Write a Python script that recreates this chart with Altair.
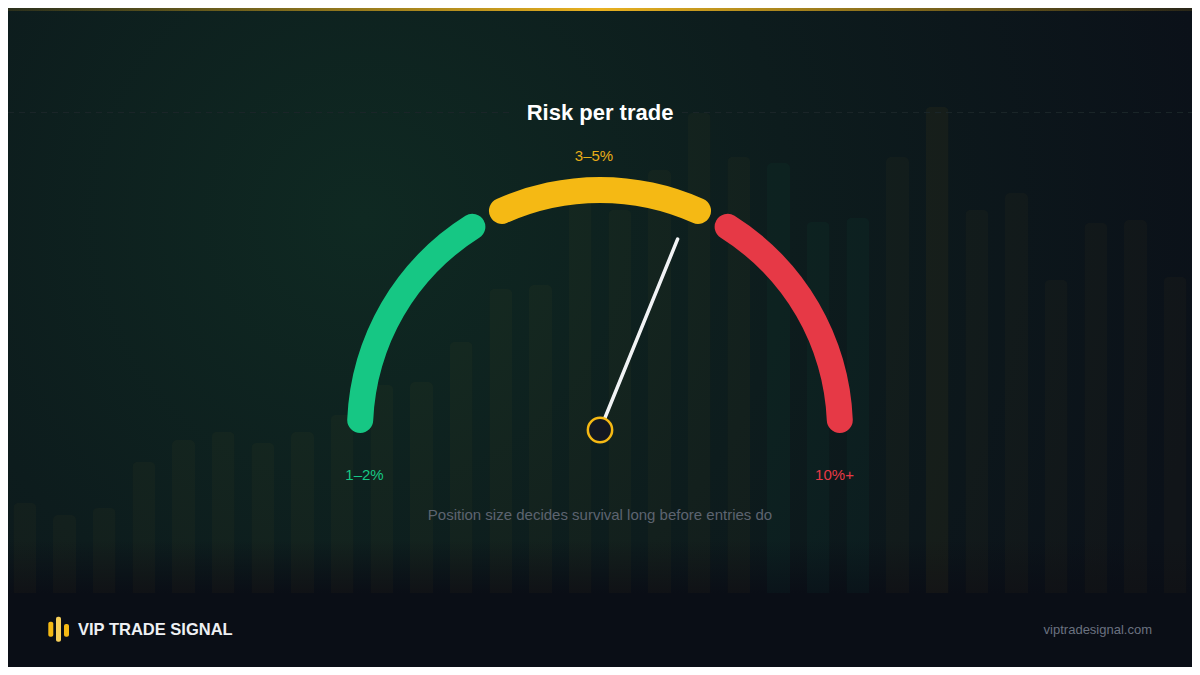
import altair as alt
import pandas as pd

# ---------------- canvas ----------------
W, H = 1184, 659          # chart size (page has an 8px margin on every side)
OX = 8                    # page -> chart offset


def px(v):
    return v - OX


FONT = "Liberation Sans"

# ---------------- data ----------------
# faint background candle bars (index -> height in px above the baseline)
bar_index = list(range(30))
bar_height = [90, 78, 85, 131, 153, 161, 150, 161, 178, 208,
              211, 251, 304, 308, 393, 383, 423, 480, 436, 430,
              371, 375, 436, 486, 383, 400, 313, 370, 373, 316]
bar_tone = ["y"] * 19 + ["g", "g", "g", "y", "h"] + ["y"] * 6

# gauge segments on a 0-100 risk dial
seg_label = ["1–2%", "3–5%", "10%+"]
seg_start = [0, 35, 66]
seg_end = [34, 65, 100]
seg_color = ["#16c784", "#f5b914", "#e63946"]

needle_value = [62.2]

title_text = "Risk per trade"
subtitle_text = "Position size decides survival long before entries do"
brand_text = "VIP TRADE SIGNAL"
url_text = "viptradesignal.com"

bars_df = pd.DataFrame({"i": bar_index, "h": bar_height, "tone": bar_tone})
seg_df = pd.DataFrame({"label": seg_label, "start": seg_start, "end": seg_end})
needle_df = pd.DataFrame({"v": needle_value})
one = pd.DataFrame({"k": [0]})

base = alt.Chart(one)

# ---------------- background ----------------
bg = base.mark_rect(
    color=alt.RadialGradient(
        gradient="radial",
        x1=0.3, y1=0.4, x2=0.3, y2=0.4, r1=0, r2=0.72,
        stops=[
            alt.GradientStop(color="#0f2922", offset=0),
            alt.GradientStop(color="#0d1c1d", offset=0.5),
            alt.GradientStop(color="#0b1119", offset=1),
        ],
    )
).encode(x=alt.value(0), x2=alt.value(W), y=alt.value(0), y2=alt.value(H))

footer_fade = base.mark_rect(
    color=alt.LinearGradient(
        gradient="linear", x1=0, y1=0, x2=0, y2=1,
        stops=[
            alt.GradientStop(color="rgba(10,14,22,0)", offset=0),
            alt.GradientStop(color="#0a0e16", offset=0.42),
            alt.GradientStop(color="#0a0e16", offset=1),
        ],
    )
).encode(x=alt.value(0), x2=alt.value(W), y=alt.value(px(540)), y2=alt.value(H))

bars = alt.Chart(bars_df).mark_bar(
    width=23, cornerRadiusTopLeft=5, cornerRadiusTopRight=5
).encode(
    x=alt.X("i:Q", scale=alt.Scale(domain=[-0.5, 29.5], range=[px(0), px(1200)], nice=False, zero=False), axis=None),
    y=alt.Y("h:Q", scale=alt.Scale(domain=[0, 500], range=[px(593), px(93)], nice=False), axis=None),
    color=alt.Color("tone:N", scale=alt.Scale(domain=["y", "g", "h"], range=["#f5b914", "#16c784", "#f5b914"]), legend=None),
    opacity=alt.Opacity("tone:N", scale=alt.Scale(domain=["y", "g", "h"], range=[0.028, 0.045, 0.1]), legend=None),
)

dash_l = base.mark_rule(color="#1a2528", strokeWidth=1, strokeDash=[6, 5]).encode(
    x=alt.value(0), x2=alt.value(px(513)), y=alt.value(px(112.5)))
dash_r = base.mark_rule(color="#1a2528", strokeWidth=1, strokeDash=[6, 5]).encode(
    x=alt.value(px(682)), x2=alt.value(W), y=alt.value(px(112.5)))

gold_line = base.mark_rect(
    color=alt.LinearGradient(
        gradient="linear", x1=0, y1=0, x2=1, y2=0,
        stops=[
            alt.GradientStop(color="rgba(212,160,23,0.15)", offset=0),
            alt.GradientStop(color="#e9b120", offset=0.5),
            alt.GradientStop(color="rgba(212,160,23,0.15)", offset=1),
        ],
    )
).encode(x=alt.value(0), x2=alt.value(W), y=alt.value(0), y2=alt.value(3))

# ---------------- gauge ----------------
CX, CY = px(600), px(430)

arcs = alt.Chart(seg_df).mark_arc(radius=253, radius2=227, cornerRadius=13).encode(
    theta=alt.Theta("start:Q", scale=alt.Scale(domain=[0, 100], range=[-1.583, 1.583]), stack=False),
    theta2="end:Q",
    color=alt.Color("label:N", scale=alt.Scale(domain=seg_label, range=seg_color), legend=None),
    x=alt.value(CX),
    y=alt.value(CY),
)

needle = alt.Chart(needle_df).mark_point(
    shape="M0,0L0,-1", size=(2 * 206) ** 2, filled=False,
    stroke="#f1f3f5", strokeWidth=3.5, strokeCap="round", opacity=1,
).encode(
    x=alt.value(CX), y=alt.value(CY),
    angle=alt.Angle("v:Q", scale=alt.Scale(domain=[0, 100], range=[269.3, 450.7])),
)

pivot = base.mark_point(
    shape="circle", size=590, filled=True, fill="#141821",
    stroke="#f5b914", strokeWidth=2.5, opacity=1, fillOpacity=1, strokeOpacity=1,
).encode(x=alt.value(CX), y=alt.value(CY))

# ---------------- texts ----------------
def label(text, x, y, size, color, weight="normal", align="center"):
    return base.mark_text(
        text=text, font=FONT, fontSize=size, fontWeight=weight, color=color,
        align=align, baseline="alphabetic",
    ).encode(x=alt.value(px(x)), y=alt.value(px(y)))


title = label(title_text, 600, 120, 22, "#ffffff", "bold")
lab_mid = label(seg_label[1], 594, 161, 15, "#e7ad18")
lab_low = label(seg_label[0], 364.5, 480, 15, "#16c784")
lab_high = label(seg_label[2], 834.5, 480, 15, "#e63946")
subtitle = label(subtitle_text, 600, 520, 15, "#5d6470")

brand = label(brand_text, 78, 635, 16.5, "#eef0f3", "bold", "left")
url = label(url_text, 1152, 634, 13, "#6b7280", "normal", "right")

logo1 = base.mark_rect(color="#f5b914", cornerRadius=2).encode(
    x=alt.value(px(48.3)), x2=alt.value(px(53.3)), y=alt.value(px(621.7)), y2=alt.value(px(636.7)))
logo2 = base.mark_rect(color="#f8d05a", cornerRadius=2).encode(
    x=alt.value(px(56)), x2=alt.value(px(61)), y=alt.value(px(616.7)), y2=alt.value(px(641.7)))
logo3 = base.mark_rect(color="#f5b914", cornerRadius=2).encode(
    x=alt.value(px(64)), x2=alt.value(px(69)), y=alt.value(px(624)), y2=alt.value(px(636.7)))

chart = alt.layer(
    bg, footer_fade, bars, dash_l, dash_r, gold_line,
    arcs, needle, pivot,
    title, lab_mid, lab_low, lab_high, subtitle,
    logo1, logo2, logo3, brand, url,
).resolve_scale(
    color="independent", opacity="independent"
).properties(
    width=W, height=H, padding=0, autosize="none", background="#0b1119"
).configure_view(stroke=None)

chart.save("out.html", embed_options={"renderer": "svg", "actions": False})
